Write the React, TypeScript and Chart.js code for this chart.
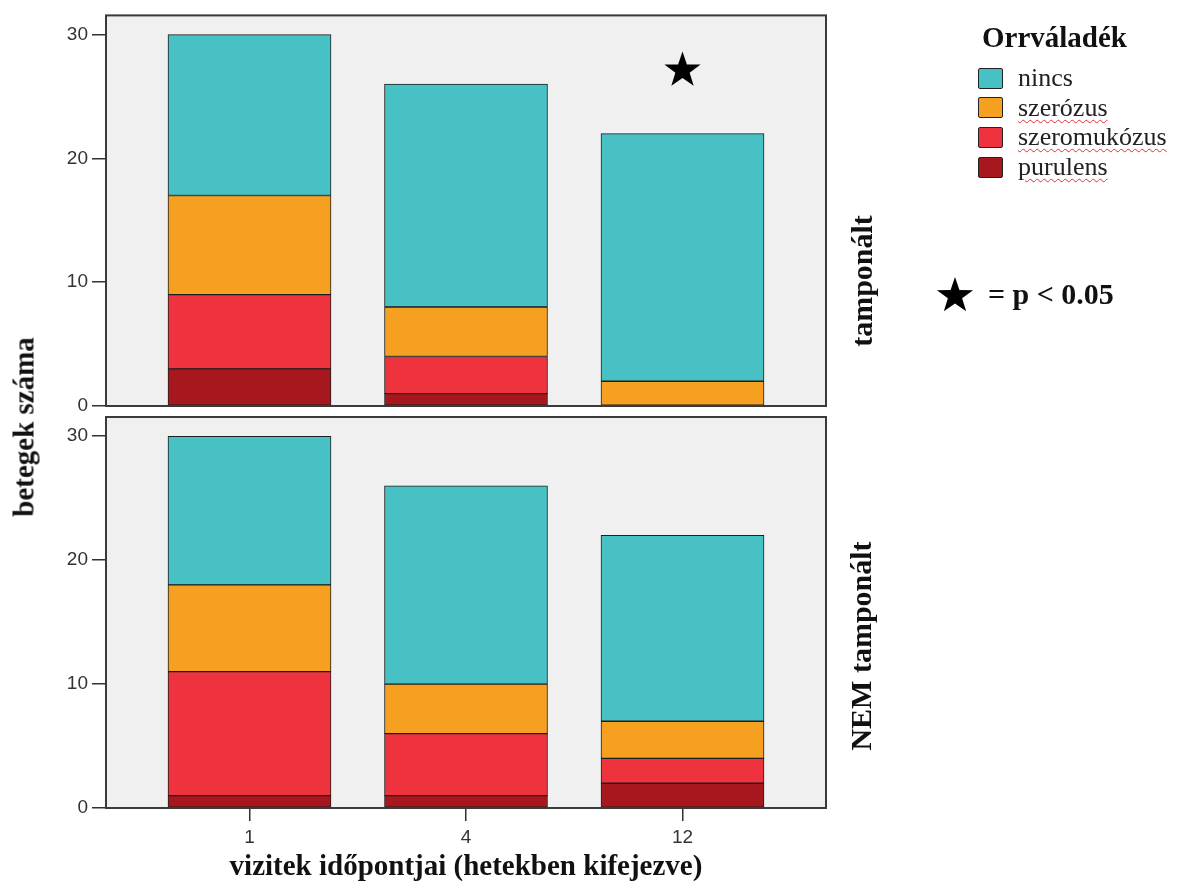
import React, { useEffect, useRef } from 'react';
import { Chart, registerables } from 'chart.js';

Chart.register(...registerables);

// ---- data ----
const weeks = ['1', '4', '12'];
const seriesNames = ['purulens', 'szeromukózus', 'szerózus', 'nincs'];
const seriesColors = ['#A6181E', '#EE333F', '#F5A020', '#48C1C5'];

const tamponaltPurulens = [3, 1, 0];
const tamponaltSzeromukozus = [6, 3, 0];
const tamponaltSzerozus = [8, 4, 2];
const tamponaltNincs = [13, 18, 20];

const nemPurulens = [1, 1, 2];
const nemSzeromukozus = [10, 5, 2];
const nemSzerozus = [7, 4, 3];
const nemNincs = [12, 16, 15];

const yTicks = [0, 10, 20, 30];
const starMarksTop = [{ x: 2, y: 27.1 }];
const starMarksBottom: { x: number; y: number }[] = [];

const legendTitle = 'Orrváladék';
const xTitle = 'vizitek időpontjai (hetekben kifejezve)';
const yTitle = 'betegek száma';
const panelTop = 'tamponált';
const panelBottom = 'NEM tamponált';
const starNote = '= p < 0.05';

const W = 1177;
const H = 886;

function starPath(ctx: CanvasRenderingContext2D, cx: number, cy: number, R: number, r: number) {
  ctx.beginPath();
  for (let i = 0; i < 10; i++) {
    const rad = i % 2 === 0 ? R : r;
    const a = -Math.PI / 2 + (i * Math.PI) / 5;
    const px = cx + rad * Math.cos(a);
    const py = cy + rad * Math.sin(a);
    if (i === 0) ctx.moveTo(px, py);
    else ctx.lineTo(px, py);
  }
  ctx.closePath();
}

function starPolygon(cx: number, cy: number, R: number, r: number) {
  const pts: string[] = [];
  for (let i = 0; i < 10; i++) {
    const rad = i % 2 === 0 ? R : r;
    const a = -Math.PI / 2 + (i * Math.PI) / 5;
    pts.push(`${(cx + rad * Math.cos(a)).toFixed(2)},${(cy + rad * Math.sin(a)).toFixed(2)}`);
  }
  return pts.join(' ');
}

const panelPlugin = {
  id: 'panelPlugin',
  beforeDraw(chart: any) {
    const { ctx, chartArea: a } = chart;
    ctx.save();
    ctx.fillStyle = '#F0F0F0';
    ctx.fillRect(a.left, a.top, a.right - a.left, a.bottom - a.top);
    ctx.restore();
  },
  afterDraw(chart: any) {
    const { ctx, chartArea: a } = chart;
    ctx.save();
    ctx.strokeStyle = '#3a3a3a';
    ctx.lineWidth = 2;
    ctx.strokeRect(a.left, a.top, a.right - a.left, a.bottom - a.top);
    ctx.restore();
  },
  afterDatasetsDraw(chart: any) {
    const marks = chart.options.plugins.panelPlugin?.stars || [];
    const { ctx, scales } = chart;
    ctx.save();
    ctx.fillStyle = '#000';
    for (const m of marks) {
      const px = scales.x.getPixelForValue(m.x);
      const py = scales.y.getPixelForValue(m.y);
      starPath(ctx, px, py, 19, 7.5);
      ctx.fill();
    }
    ctx.restore();
  },
};

function makeDatasets(series: number[][]) {
  return series.map((vals, si) => ({
    label: seriesNames[si],
    data: vals.map((v, i) => ({ x: i, y: v })),
    backgroundColor: seriesColors[si],
    borderColor: '#1e1e1e',
    borderWidth: 1,
    borderSkipped: false as const,
    barThickness: 163,
  }));
}

function makeOptions(isBottom: boolean, stars: { x: number; y: number }[]) {
  return {
    responsive: false,
    animation: false as const,
    layout: {
      padding: isBottom
        ? { top: 417, right: W - 826, bottom: 0, left: 0 }
        : { top: 14, right: W - 826, bottom: H - 406, left: 0 },
    },
    plugins: {
      legend: { display: false },
      tooltip: { enabled: false },
      panelPlugin: { stars },
    },
    scales: {
      x: {
        type: 'linear' as const,
        stacked: true,
        offset: false,
        display: isBottom,
        min: -0.6628,
        max: 2.6628,
        afterBuildTicks: (s: any) => {
          s.ticks = weeks.map((_, i) => ({ value: i }));
        },
        afterFit: (s: any) => {
          if (isBottom) s.height = H - 808;
        },
        ticks: {
          callback: (v: any) => weeks[Math.round(v)] ?? '',
          font: { family: 'Liberation Sans', size: 19 },
          color: '#333',
          padding: 5,
          maxRotation: 0,
          autoSkip: false,
        },
        grid: {
          offset: false,
          drawOnChartArea: false,
          drawTicks: true,
          tickLength: 13,
          color: '#333',
          lineWidth: 1.5,
        },
        border: { display: false },
        title: {
          display: true,
          text: xTitle,
          font: { family: 'Liberation Serif', size: 29, weight: 'bold' as const },
          color: '#111',
          padding: { top: 0, bottom: 1 },
        },
      },
      y: {
        type: 'linear' as const,
        stacked: true,
        min: 0,
        max: 31.55,
        afterBuildTicks: (s: any) => {
          s.ticks = yTicks.map((v) => ({ value: v }));
        },
        afterFit: (s: any) => {
          s.width = 106;
        },
        ticks: {
          font: { family: 'Liberation Sans', size: 19 },
          color: '#333',
          padding: 4,
        },
        grid: { drawOnChartArea: false, drawTicks: true, tickLength: 14, color: '#333', lineWidth: 1.5 },
        border: { display: false },
      },
    },
  };
}

function PanelChart({ isBottom }: { isBottom: boolean }) {
  const ref = useRef<HTMLCanvasElement | null>(null);
  useEffect(() => {
    if (!ref.current) return;
    const series = isBottom
      ? [nemPurulens, nemSzeromukozus, nemSzerozus, nemNincs]
      : [tamponaltPurulens, tamponaltSzeromukozus, tamponaltSzerozus, tamponaltNincs];
    const chart = new Chart(ref.current, {
      type: 'bar',
      data: { datasets: makeDatasets(series) as any },
      options: makeOptions(isBottom, isBottom ? starMarksBottom : starMarksTop) as any,
      plugins: [panelPlugin as any],
    });
    return () => chart.destroy();
  }, [isBottom]);
  return (
    <canvas
      ref={ref}
      width={W}
      height={H}
      style={{ position: 'absolute', left: 0, top: 0, width: W, height: H }}
    />
  );
}

const serif = '"Liberation Serif", "Times New Roman", serif';

function Rotated({ cx, cy, text, size }: { cx: number; cy: number; text: string; size: number }) {
  return (
    <div
      style={{
        position: 'absolute',
        left: cx,
        top: cy,
        transform: 'translate(-50%, -50%) rotate(-90deg)',
        whiteSpace: 'nowrap',
        fontFamily: serif,
        fontWeight: 'bold',
        fontSize: size,
        lineHeight: 1,
        color: '#111',
      }}
    >
      {text}
    </div>
  );
}

export default function App() {
  const legendOrder = [3, 2, 1, 0];
  return (
    <div
      style={{
        position: 'fixed',
        left: 0,
        top: 0,
        width: W,
        height: H,
        background: '#fff',
        overflow: 'hidden',
      }}
    >
      <PanelChart isBottom={false} />
      <PanelChart isBottom={true} />

      <Rotated cx={24} cy={427} text={yTitle} size={29} />
      <Rotated cx={862} cy={281} text={panelTop} size={30} />
      <Rotated cx={861} cy={646} text={panelBottom} size={30} />

      <div
        style={{
          position: 'absolute',
          left: 982,
          top: 19,
          fontFamily: serif,
          fontWeight: 'bold',
          fontSize: 29,
          lineHeight: '36px',
          color: '#111',
          whiteSpace: 'nowrap',
        }}
      >
        {legendTitle}
      </div>
      {legendOrder.map((si, row) => (
        <div
          key={si}
          style={{ position: 'absolute', left: 978, top: 63 + row * 29.7, height: 30, display: 'flex', alignItems: 'center' }}
        >
          <div
            style={{
              width: 23,
              height: 19,
              background: seriesColors[si],
              border: '1.5px solid #222',
              borderRadius: 2,
            }}
          />
          <div
            style={{
              marginLeft: 15,
              fontFamily: serif,
              fontSize: 26,
              lineHeight: '30px',
              color: '#222',
              whiteSpace: 'nowrap',
              textDecorationLine: si === 3 ? 'none' : 'underline',
              textDecorationStyle: 'wavy',
              textDecorationColor: '#e0303a',
              textDecorationThickness: '1px',
              textUnderlineOffset: '3px',
            }}
          >
            {seriesNames[si]}
          </div>
        </div>
      ))}

      <svg style={{ position: 'absolute', left: 930, top: 272 }} width={50} height={46}>
        <polygon points={starPolygon(25, 24, 19, 7.5)} fill="#000" />
      </svg>
      <div
        style={{
          position: 'absolute',
          left: 988,
          top: 277,
          fontFamily: serif,
          fontWeight: 'bold',
          fontSize: 30,
          lineHeight: '34px',
          color: '#111',
          whiteSpace: 'pre',
        }}
      >
        {starNote}
      </div>
    </div>
  );
}
